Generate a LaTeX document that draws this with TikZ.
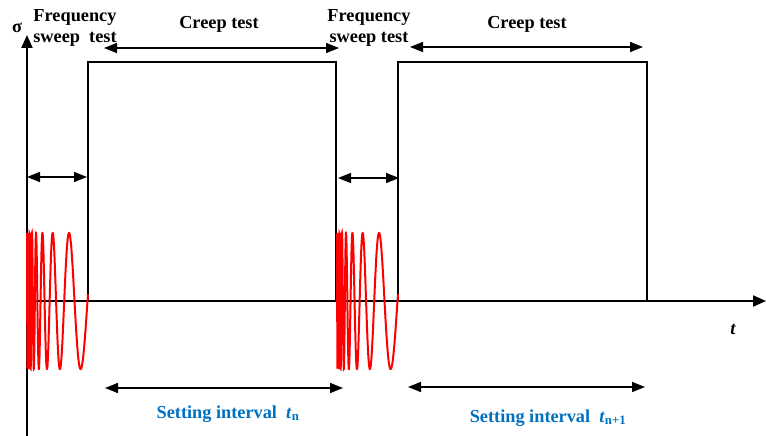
\documentclass[tikz,border=0pt]{standalone}
\usepackage{fontspec}
\setmainfont{Liberation Serif}
\usepackage{xcolor}
\usepackage{tikz}
\usetikzlibrary{arrows.meta, positioning, calc}
\definecolor{intblue}{RGB}{0,112,192}

\begin{document}
\begin{tikzpicture}[
    x=1pt, y=-1pt,
    lbl/.style={font=\fontsize{18.3}{21.5}\selectfont\bfseries, align=center, inner sep=0pt},
    intlbl/.style={lbl, text=intblue},
    axis/.style={-{Triangle[length=13pt,width=11pt]}, line width=2pt},
    span/.style={{Triangle[length=13pt,width=10pt]}-{Triangle[length=13pt,width=10pt]}, line width=1.5pt},
    pulse/.style={line width=1.5pt},
    chirp/.style={red, line width=2pt, samples=1500, domain=0:61}
]
\useasboundingbox (0,0) rectangle (766,436);

% axes
\coordinate (o) at (27,301);
\coordinate (ybot) at (27,436);
\coordinate (ytop) at (27,35);
\coordinate (xend) at (766,301);
\draw[axis] (ybot) -- (ytop);
\draw[axis] (o) -- (xend);
\node[lbl] (sig) at (17,28) {σ};
\node[lbl] (tax) at (733,329) {\itshape t};

% creep loading pulses
\coordinate (p1a) at (88,301);
\coordinate (p1b) at (336,301);
\coordinate (p2a) at (398,301);
\coordinate (p2b) at (647,301);
\draw[pulse] (p1a) |- (336,62) -- (p1b);
\draw[pulse] (p2a) |- (647,62) -- (p2b);

% frequency sweeps (chirps)
\draw[chirp] plot ({27+\x},{301-68*cos(360*ln(1+\x/1.628)/ln(1.6))});
\draw[chirp] plot ({337+\x},{301-68*cos(360*ln(1+\x/1.628)/ln(1.6))});

% sweep intervals
\coordinate (f1a) at (27,177);
\coordinate (f1b) at (87,177);
\coordinate (f2a) at (338,178);
\coordinate (f2b) at (399,178);
\draw[span] (f1a) -- (f1b);
\draw[span] (f2a) -- (f2b);
\node[lbl] (freq1) at (75,28) {Frequency\\sweep\ \ test};
\node[lbl] (freq2) at (369,28) {Frequency\\sweep test};

% creep tests
\coordinate (c1a) at (104,48);
\coordinate (c1b) at (339,48);
\coordinate (c2a) at (410,47);
\coordinate (c2b) at (643,47);
\draw[span] (c1a) -- (c1b);
\draw[span] (c2a) -- (c2b);
\node[lbl] (creep1) at (219,24) {Creep test};
\node[lbl] (creep2) at (527,24) {Creep test};

% setting intervals
\coordinate (s1a) at (105,388);
\coordinate (s1b) at (343,388);
\coordinate (s2a) at (408,387);
\coordinate (s2b) at (645,387);
\draw[span] (s1a) -- (s1b);
\draw[span] (s2a) -- (s2b);
\node[intlbl] (set1) at (228,414) {Setting interval\ \ \textit{t}\textsubscript{n}};
\node[intlbl] (set2) at (548,418) {Setting interval\ \ \textit{t}\textsubscript{n+1}};

\end{tikzpicture}
\end{document}
